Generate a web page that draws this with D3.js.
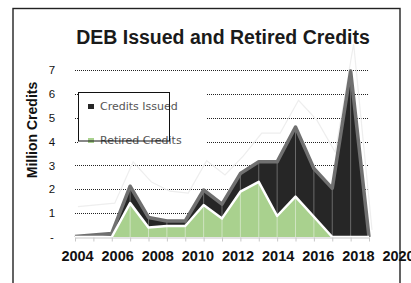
<!DOCTYPE html>
<html lang="en">
<head>
    <meta charset="UTF-8">
    <title>DEB Issued and Retired Credits</title>
    <script src="https://d3js.org/d3.v7.min.js"></script>
    <style>
        body { margin: 0; background: #fff; }
        svg { display: block; }
    </style>
</head>
<body>
    <svg width="411" height="283"></svg>

    <script>
        // category years of the area series
        const years = d3.range(2003, 2020);
        // million credits
        const issued  = [0.02, 0.08, 0.15, 2.13, 0.82, 0.67, 0.67, 1.97, 1.38, 2.66, 3.15, 3.15, 4.61, 2.87, 2.04, 6.96, 0];
        const retired = [0, 0, 0, 1.42, 0.40, 0.46, 0.46, 1.34, 0.78, 1.90, 2.31, 0.88, 1.69, 0.85, 0, 0, 0];
        // faint shadow line visible behind the chart
        const ghost   = [1.27, 1.35, 1.42, 3.15, 2.3, 1.92, 1.84, 3.2, 2.6, 3.4, 4.35, 4.35, 5.73, 4.9, 3.55, 8.1, 0.3];

        const yTicks = [0, 1, 2, 3, 4, 5, 6, 7];
        const yearLabels = d3.range(2004, 2021, 2);

        const svg = d3.select("svg");

        const x = d3.scalePoint().domain(years).range([75, 369]);
        const xLab = d3.scaleLinear().domain([2004, 2020]).range([77, 398]);
        const y = d3.scaleLinear().domain([0, 7]).range([237, 70]);

        // outer frame
        svg.append("rect")
            .attr("x", 13).attr("y", 8.5)
            .attr("width", 387).attr("height", 290)
            .attr("fill", "none")
            .attr("stroke", "#222")
            .attr("stroke-width", 1.4);

        // title
        svg.append("text")
            .attr("x", 223).attr("y", 44)
            .attr("text-anchor", "middle")
            .style("font-family", "Liberation Sans, Arial, sans-serif")
            .style("font-weight", "bold")
            .style("font-size", "19.5px")
            .attr("fill", "#1a1a1a")
            .text("DEB Issued and Retired Credits");

        // gridlines
        svg.append("g")
            .selectAll("line")
            .data(yTicks.filter(d => d > 0))
            .enter().append("line")
            .attr("x1", 75).attr("x2", 369)
            .attr("y1", d => Math.round(y(d)) + 0.5)
            .attr("y2", d => Math.round(y(d)) + 0.5)
            .attr("stroke", "#222")
            .attr("stroke-width", 1)
            .attr("stroke-dasharray", "1,1");

        // ghost line
        const line = d3.line()
            .x((d, i) => x(years[i]) + 3)
            .y(d => y(d));
        svg.append("path")
            .datum(ghost)
            .attr("d", line)
            .attr("fill", "none")
            .attr("stroke", "#eeeeee")
            .attr("stroke-width", 1.2);

        const area = d3.area()
            .x((d, i) => x(years[i]))
            .y0(y(0))
            .y1(d => y(d));

        // issued area
        svg.append("path")
            .datum(issued)
            .attr("d", area)
            .attr("fill", "#262626");

        svg.append("g")
            .selectAll("line")
            .data(issued)
            .enter().append("line")
            .attr("x1", (d, i) => x(years[i]))
            .attr("x2", (d, i) => x(years[i]))
            .attr("y1", y(0))
            .attr("y2", d => y(d))
            .attr("stroke", "#6a6a6a")
            .attr("stroke-width", 1);

        svg.append("path")
            .datum(issued)
            .attr("d", line.x((d, i) => x(years[i])))
            .attr("fill", "none")
            .attr("stroke", "#707070")
            .attr("stroke-width", 3.5)
            .attr("stroke-linejoin", "round");

        // retired area
        svg.append("path")
            .datum(retired)
            .attr("d", area)
            .attr("fill", "#a9d18e");

        svg.append("g")
            .selectAll("line")
            .data(retired)
            .enter().append("line")
            .attr("x1", (d, i) => x(years[i]))
            .attr("x2", (d, i) => x(years[i]))
            .attr("y1", y(0))
            .attr("y2", d => y(d))
            .attr("stroke", "#cfe4c1")
            .attr("stroke-width", 1);

        svg.append("path")
            .datum(retired)
            .attr("d", line)
            .attr("fill", "none")
            .attr("stroke", "#fff")
            .attr("stroke-width", 2.5)
            .attr("stroke-linejoin", "round");

        // category axis
        const xAxis = svg.append("g")
            .attr("transform", "translate(0," + (y(0) + 0.5) + ")")
            .call(d3.axisBottom(x).tickSize(4).tickSizeOuter(0).tickFormat(""));
        xAxis.select(".domain").attr("stroke", "#c8c8c8");
        xAxis.selectAll(".tick line").attr("stroke", "#c8c8c8");

        // year labels
        const labAxis = svg.append("g")
            .attr("transform", "translate(0,248)")
            .call(d3.axisBottom(xLab).tickValues(yearLabels).tickSize(0).tickFormat(d3.format("d")));
        labAxis.select(".domain").remove();
        labAxis.selectAll("text")
            .style("font-family", "Liberation Sans, Arial, sans-serif")
            .style("font-weight", "bold")
            .style("font-size", "14.5px")
            .attr("fill", "#111");

        // y labels
        const yAxis = svg.append("g")
            .attr("transform", "translate(57,0)")
            .call(d3.axisLeft(y).tickValues(yTicks).tickSize(0)
                .tickFormat(d => d === 0 ? "-" : d));
        yAxis.select(".domain").remove();
        yAxis.selectAll("text")
            .attr("text-anchor", "middle")
            .attr("x", -5)
            .style("font-family", "Liberation Sans, Arial, sans-serif")
            .style("font-size", "11.5px")
            .attr("fill", "#111");

        svg.append("text")
            .attr("transform", "translate(37,130) rotate(-90)")
            .attr("text-anchor", "middle")
            .style("font-family", "Liberation Sans, Arial, sans-serif")
            .style("font-weight", "bold")
            .style("font-size", "14px")
            .attr("fill", "#111")
            .text("Million Credits");

        // legend
        const legend = svg.append("g");
        legend.append("rect")
            .attr("x", 78).attr("y", 88)
            .attr("width", 128).attr("height", 58)
            .attr("fill", "#fff");
        const items = [
            { name: "Credits Issued", color: "#262626", y: 110 },
            { name: "Retired Credits", color: "#a9d18e", y: 144 }
        ];
        items.forEach(it => {
            legend.append("rect")
                .attr("x", 88).attr("y", it.y - 6)
                .attr("width", 6).attr("height", 5)
                .attr("fill", it.color);
            legend.append("text")
                .attr("x", 100).attr("y", it.y)
                .style("font-family", "DejaVu Sans, Verdana, sans-serif")
                .style("font-size", "11px")
                .attr("fill", "#555")
                .text(it.name);
        });
        legend.append("rect")
            .attr("x", 78.5).attr("y", 92.5)
            .attr("width", 91).attr("height", 48.5)
            .attr("fill", "none")
            .attr("stroke", "#111")
            .attr("stroke-width", 1);
    </script>
</body>
</html>
